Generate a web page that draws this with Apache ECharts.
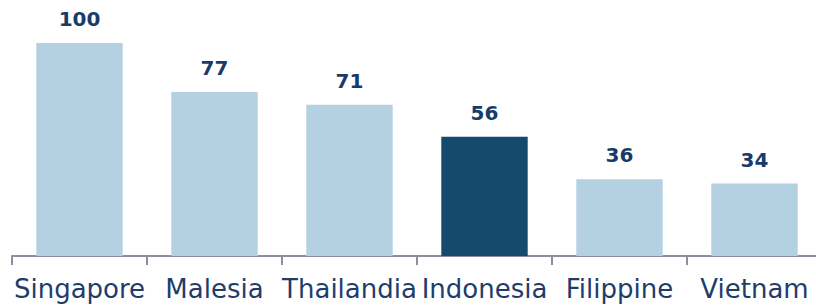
<!DOCTYPE html>
<html>
<head>
<meta charset="utf-8">
<script src="https://cdn.jsdelivr.net/npm/echarts@6/dist/echarts.min.js"></script>
<style>
  html, body { margin: 0; padding: 0; background: #fff; }
  #chart { width: 816px; height: 306px; }
</style>
</head>
<body>
<div id="chart"></div>
<script>
// paesi e punteggi
const categories = ['Singapore', 'Malesia', 'Thailandia', 'Indonesia', 'Filippine', 'Vietnam']
const values = [100, 77, 71, 56, 36, 34]
const highlight = 'Indonesia'

const chart = echarts.init(document.getElementById('chart'), null, { renderer: 'svg' })

chart.setOption({
  animation: false,
  grid: { left: 12, width: 810, top: 43, bottom: 50, outerBoundsMode: 'none', containLabel: false },
  xAxis: {
    type: 'category',
    data: categories,
    axisLine: { lineStyle: { color: '#8c909e', width: 2 } },
    axisTick: { show: true, length: 9, lineStyle: { color: '#8c909e', width: 2 } },
    axisLabel: {
      color: '#1e3d6b',
      fontSize: 26,
      fontFamily: 'DejaVu Sans',
      margin: 20,
      interval: 0
    }
  },
  yAxis: {
    type: 'value',
    min: 0,
    max: 100,
    show: false
  },
  series: [{
    type: 'bar',
    barWidth: '64%',
    data: values.map((v, i) => ({
      value: v,
      itemStyle: { color: categories[i] === highlight ? '#154a6c' : '#b4d1e1' }
    })),
    label: {
      show: true,
      position: 'top',
      distance: 14,
      color: '#173c6a',
      fontSize: 20,
      fontWeight: 'bold',
      fontFamily: 'DejaVu Sans'
    }
  }]
})
</script>
</body>
</html>
